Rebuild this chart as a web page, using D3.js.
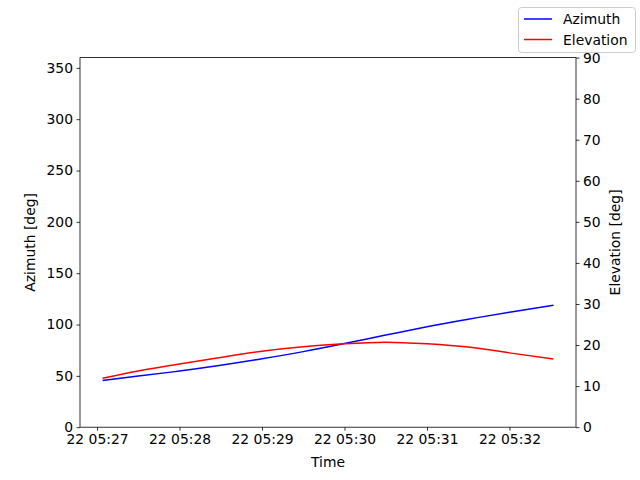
<!DOCTYPE html>
<html>
<head>
<meta charset="utf-8">
<script src="https://cdn.jsdelivr.net/npm/d3@7"></script>
<style>
  body { margin: 0; background: #fff; }
  text { font-family: "DejaVu Sans", sans-serif; }
</style>
</head>
<body>
<div id="chart"></div>
<script>
// seconds after 22 05:27:00 (UTC)
var secs = [4, 30, 60, 90, 120, 150, 180, 210, 240, 270, 300, 332];
var azimuth = [45.5, 49.8, 54.7, 60.3, 66.6, 73.6, 81.5, 89.7, 97.9, 105.2, 111.9, 118.7];
var elevation = [11.9, 13.7, 15.4, 17.0, 18.5, 19.6, 20.3, 20.7, 20.3, 19.5, 18.1, 16.6];
var azTicks = [0, 50, 100, 150, 200, 250, 300, 350];
var elTicks = [0, 10, 20, 30, 40, 50, 60, 70, 80, 90];
var seriesNames = ["Azimuth", "Elevation"];
var seriesColors = ["#0000ff", "#ff0000"];

var W = 640, H = 480;
var mLeft = 80, mRight = 576, mTop = 57.6, mBottom = 427.2;
var fs = 13.9;

var base = Date.UTC(2023, 0, 22, 5, 27, 0);
var times = secs.map(function (s) { return new Date(base + s * 1000); });
var t0 = times[0].getTime(), t1 = times[times.length - 1].getTime(), pad = (t1 - t0) * 0.05;

var x = d3.scaleUtc().domain([new Date(t0 - pad), new Date(t1 + pad)]).range([mLeft, mRight]);
var yAz = d3.scaleLinear().domain([0, 360]).range([mBottom, mTop]);
var yEl = d3.scaleLinear().domain([0, 90]).range([mBottom, mTop]);

var svg = d3.select("#chart").append("svg").attr("width", W).attr("height", H);

var fmt = d3.utcFormat("%d %H:%M");
var xTicks = d3.range(0, 6).map(function (m) { return new Date(base + m * 60000); });

function styleAxis(g) {
  g.select(".domain").remove();
  g.selectAll("line").attr("stroke", "#000").attr("stroke-width", 0.8);
  g.selectAll("text").attr("font-size", fs).attr("fill", "#000").attr("font-family", "DejaVu Sans, sans-serif");
}

svg.append("g").attr("transform", "translate(0," + mBottom + ")")
  .call(d3.axisBottom(x).tickValues(xTicks).tickFormat(fmt).tickSize(3.5).tickPadding(3.5))
  .call(styleAxis);

svg.append("g").attr("transform", "translate(" + mLeft + ",0)")
  .call(d3.axisLeft(yAz).tickValues(azTicks).tickSize(3.5).tickPadding(3.5))
  .call(styleAxis);

svg.append("g").attr("transform", "translate(" + mRight + ",0)")
  .call(d3.axisRight(yEl).tickValues(elTicks).tickSize(3.5).tickPadding(3.5))
  .call(styleAxis);

var lineAz = d3.line().x(function (d, i) { return x(times[i]); }).y(function (d) { return yAz(d); }).curve(d3.curveNatural);
var lineEl = d3.line().x(function (d, i) { return x(times[i]); }).y(function (d) { return yEl(d); }).curve(d3.curveNatural);

svg.append("path").datum(azimuth).attr("d", lineAz).attr("fill", "none")
  .attr("stroke", seriesColors[0]).attr("stroke-width", 1.5);
svg.append("path").datum(elevation).attr("d", lineEl).attr("fill", "none")
  .attr("stroke", seriesColors[1]).attr("stroke-width", 1.5);

// spines
svg.append("rect").attr("x", mLeft).attr("y", mTop).attr("width", mRight - mLeft).attr("height", mBottom - mTop)
  .attr("fill", "none").attr("stroke", "#000").attr("stroke-width", 0.8);

// axis labels
svg.append("text").attr("x", (mLeft + mRight) / 2).attr("y", 467).attr("text-anchor", "middle")
  .attr("font-size", fs).text("Time");
svg.append("text").attr("transform", "translate(35," + (mTop + mBottom) / 2 + ") rotate(-90)")
  .attr("text-anchor", "middle").attr("font-size", fs).text("Azimuth [deg]");
svg.append("text").attr("transform", "translate(620," + (mTop + mBottom) / 2 + ") rotate(-90)")
  .attr("text-anchor", "middle").attr("font-size", fs).text("Elevation [deg]");

// legend (figure upper right)
var lg = svg.append("g");
lg.append("rect").attr("x", 518.5).attr("y", 7.5).attr("width", 117).attr("height", 45)
  .attr("rx", 3).attr("fill", "#fff").attr("fill-opacity", 0.8).attr("stroke", "#cccccc").attr("stroke-width", 1);
seriesNames.forEach(function (name, i) {
  var yy = 19 + i * 20.5;
  lg.append("line").attr("x1", 524).attr("x2", 552).attr("y1", yy).attr("y2", yy)
    .attr("stroke", seriesColors[i]).attr("stroke-width", 1.5);
  lg.append("text").attr("x", 563).attr("y", yy + 5).attr("font-size", fs).text(name);
});
</script>
</body>
</html>
